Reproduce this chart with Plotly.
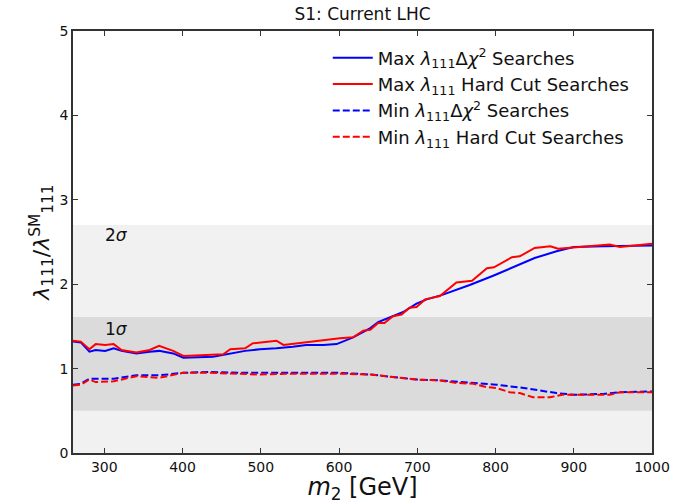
import plotly.graph_objects as go

# ---- data ----
x_max_chi = [260, 270, 281, 289, 301, 312, 322, 341, 358, 370, 388, 401, 439, 452, 461, 480, 499, 520, 541, 558, 580, 597, 618, 640, 650, 669, 682, 699, 712, 731, 767, 797, 823, 850, 878, 900, 938, 1000]
y_max_chi = [1.32, 1.31, 1.20, 1.22, 1.21, 1.24, 1.21, 1.18, 1.20, 1.21, 1.18, 1.13, 1.14, 1.16, 1.18, 1.21, 1.23, 1.24, 1.26, 1.28, 1.28, 1.29, 1.37, 1.48, 1.55, 1.62, 1.67, 1.77, 1.82, 1.87, 1.99, 2.10, 2.20, 2.31, 2.39, 2.44, 2.45, 2.46]

x_max_cut = [260, 270, 281, 289, 301, 312, 322, 341, 358, 370, 388, 401, 452, 461, 480, 490, 520, 529, 601, 618, 631, 640, 650, 658, 669, 680, 690, 699, 710, 729, 750, 770, 789, 798, 821, 831, 850, 870, 880, 904, 946, 959, 1000]
y_max_cut = [1.33, 1.32, 1.23, 1.29, 1.28, 1.29, 1.22, 1.19, 1.22, 1.27, 1.21, 1.15, 1.17, 1.23, 1.24, 1.30, 1.33, 1.28, 1.36, 1.37, 1.45, 1.46, 1.54, 1.54, 1.62, 1.64, 1.72, 1.73, 1.82, 1.86, 2.02, 2.04, 2.19, 2.20, 2.32, 2.33, 2.43, 2.45, 2.42, 2.44, 2.47, 2.44, 2.48]

x_min_chi = [260, 270, 281, 301, 312, 341, 370, 401, 435, 480, 541, 601, 640, 699, 731, 767, 801, 836, 878, 900, 938, 959, 1000]
y_min_chi = [0.81, 0.82, 0.88, 0.88, 0.88, 0.92, 0.92, 0.95, 0.96, 0.95, 0.95, 0.95, 0.93, 0.87, 0.86, 0.83, 0.81, 0.77, 0.71, 0.69, 0.70, 0.72, 0.73]

x_min_cut = [260, 270, 281, 289, 312, 341, 370, 401, 435, 480, 499, 541, 601, 640, 699, 729, 750, 772, 789, 801, 818, 831, 848, 870, 885, 946, 959, 1000]
y_min_cut = [0.80, 0.81, 0.87, 0.84, 0.85, 0.91, 0.89, 0.95, 0.95, 0.94, 0.93, 0.94, 0.94, 0.93, 0.87, 0.86, 0.83, 0.82, 0.78, 0.77, 0.72, 0.71, 0.66, 0.66, 0.69, 0.69, 0.72, 0.72]

band_2sigma = [0.0, 2.70]
band_1sigma = [0.50, 1.61]
x_range = [260, 1000]
y_range = [0, 5]
x_ticks = [300, 400, 500, 600, 700, 800, 900, 1000]
y_ticks = [0, 1, 2, 3, 4, 5]

FONT = "DejaVu Sans"

fig = go.Figure()
fig.add_trace(go.Scatter(x=x_max_chi, y=y_max_chi, mode="lines",
                         line=dict(color="#0000ff", width=2),
                         name="Max <i>λ</i><sub>111</sub>Δ<i>χ</i><sup>2</sup> Searches"))
fig.add_trace(go.Scatter(x=x_max_cut, y=y_max_cut, mode="lines",
                         line=dict(color="#ff0000", width=2),
                         name="Max <i>λ</i><sub>111</sub> Hard Cut Searches"))
fig.add_trace(go.Scatter(x=x_min_chi, y=y_min_chi, mode="lines",
                         line=dict(color="#0000ff", width=2, dash="7px,3px"),
                         name="Min <i>λ</i><sub>111</sub>Δ<i>χ</i><sup>2</sup> Searches"))
fig.add_trace(go.Scatter(x=x_min_cut, y=y_min_cut, mode="lines",
                         line=dict(color="#ff0000", width=2, dash="7px,3px"),
                         name="Min <i>λ</i><sub>111</sub> Hard Cut Searches"))

fig.add_shape(type="rect", xref="paper", yref="y", x0=0, x1=1,
              y0=band_2sigma[0], y1=band_2sigma[1],
              fillcolor="#f1f1f1", line=dict(width=0), layer="below")
fig.add_shape(type="rect", xref="paper", yref="y", x0=0, x1=1,
              y0=band_1sigma[0], y1=band_1sigma[1],
              fillcolor="#dbdbdb", line=dict(width=0), layer="below")

fig.add_annotation(x=298, y=2.58, text="2<i>σ</i>", showarrow=False,
                   xanchor="left", yanchor="middle", font=dict(size=17, color="#111"))
fig.add_annotation(x=298, y=1.47, text="1<i>σ</i>", showarrow=False,
                   xanchor="left", yanchor="middle", font=dict(size=17, color="#111"))

axis_common = dict(showgrid=False, zeroline=False, ticks="inside", ticklen=5,
                   tickwidth=1, tickcolor="#333", showline=True, linecolor="#333",
                   linewidth=1.5, mirror="ticks", tickfont=dict(size=14, color="#111"))

fig.update_layout(
    width=684, height=504,
    margin=dict(l=73, r=32, t=31, b=51, autoexpand=False),
    plot_bgcolor="white", paper_bgcolor="white",
    font=dict(family=FONT, color="#111"),
    title=dict(text="S1: Current LHC", x=0.53, xanchor="center", y=0.972,
               yanchor="middle", font=dict(size=17, color="#111")),
    xaxis=dict(range=x_range, tickvals=x_ticks,
               title=dict(text="<i>m</i><sub>2</sub> [GeV]", font=dict(size=24), standoff=2),
               **axis_common),
    yaxis=dict(range=y_range, tickvals=y_ticks,
               title=dict(text="<i>λ</i><sub>111</sub>/<i>λ</i><sup>SM</sup><sub>111</sub>",
                          font=dict(size=22), standoff=4),
               **axis_common),
    showlegend=True,
    legend=dict(x=0.44, y=0.98, xanchor="left", yanchor="top",
                bgcolor="rgba(0,0,0,0)", font=dict(size=18, color="#111"),
                tracegroupgap=0, itemwidth=40),
)

fig.write_html("out.html", config={"displayModeBar": False},
               post_script="document.body.style.margin='0px';")
